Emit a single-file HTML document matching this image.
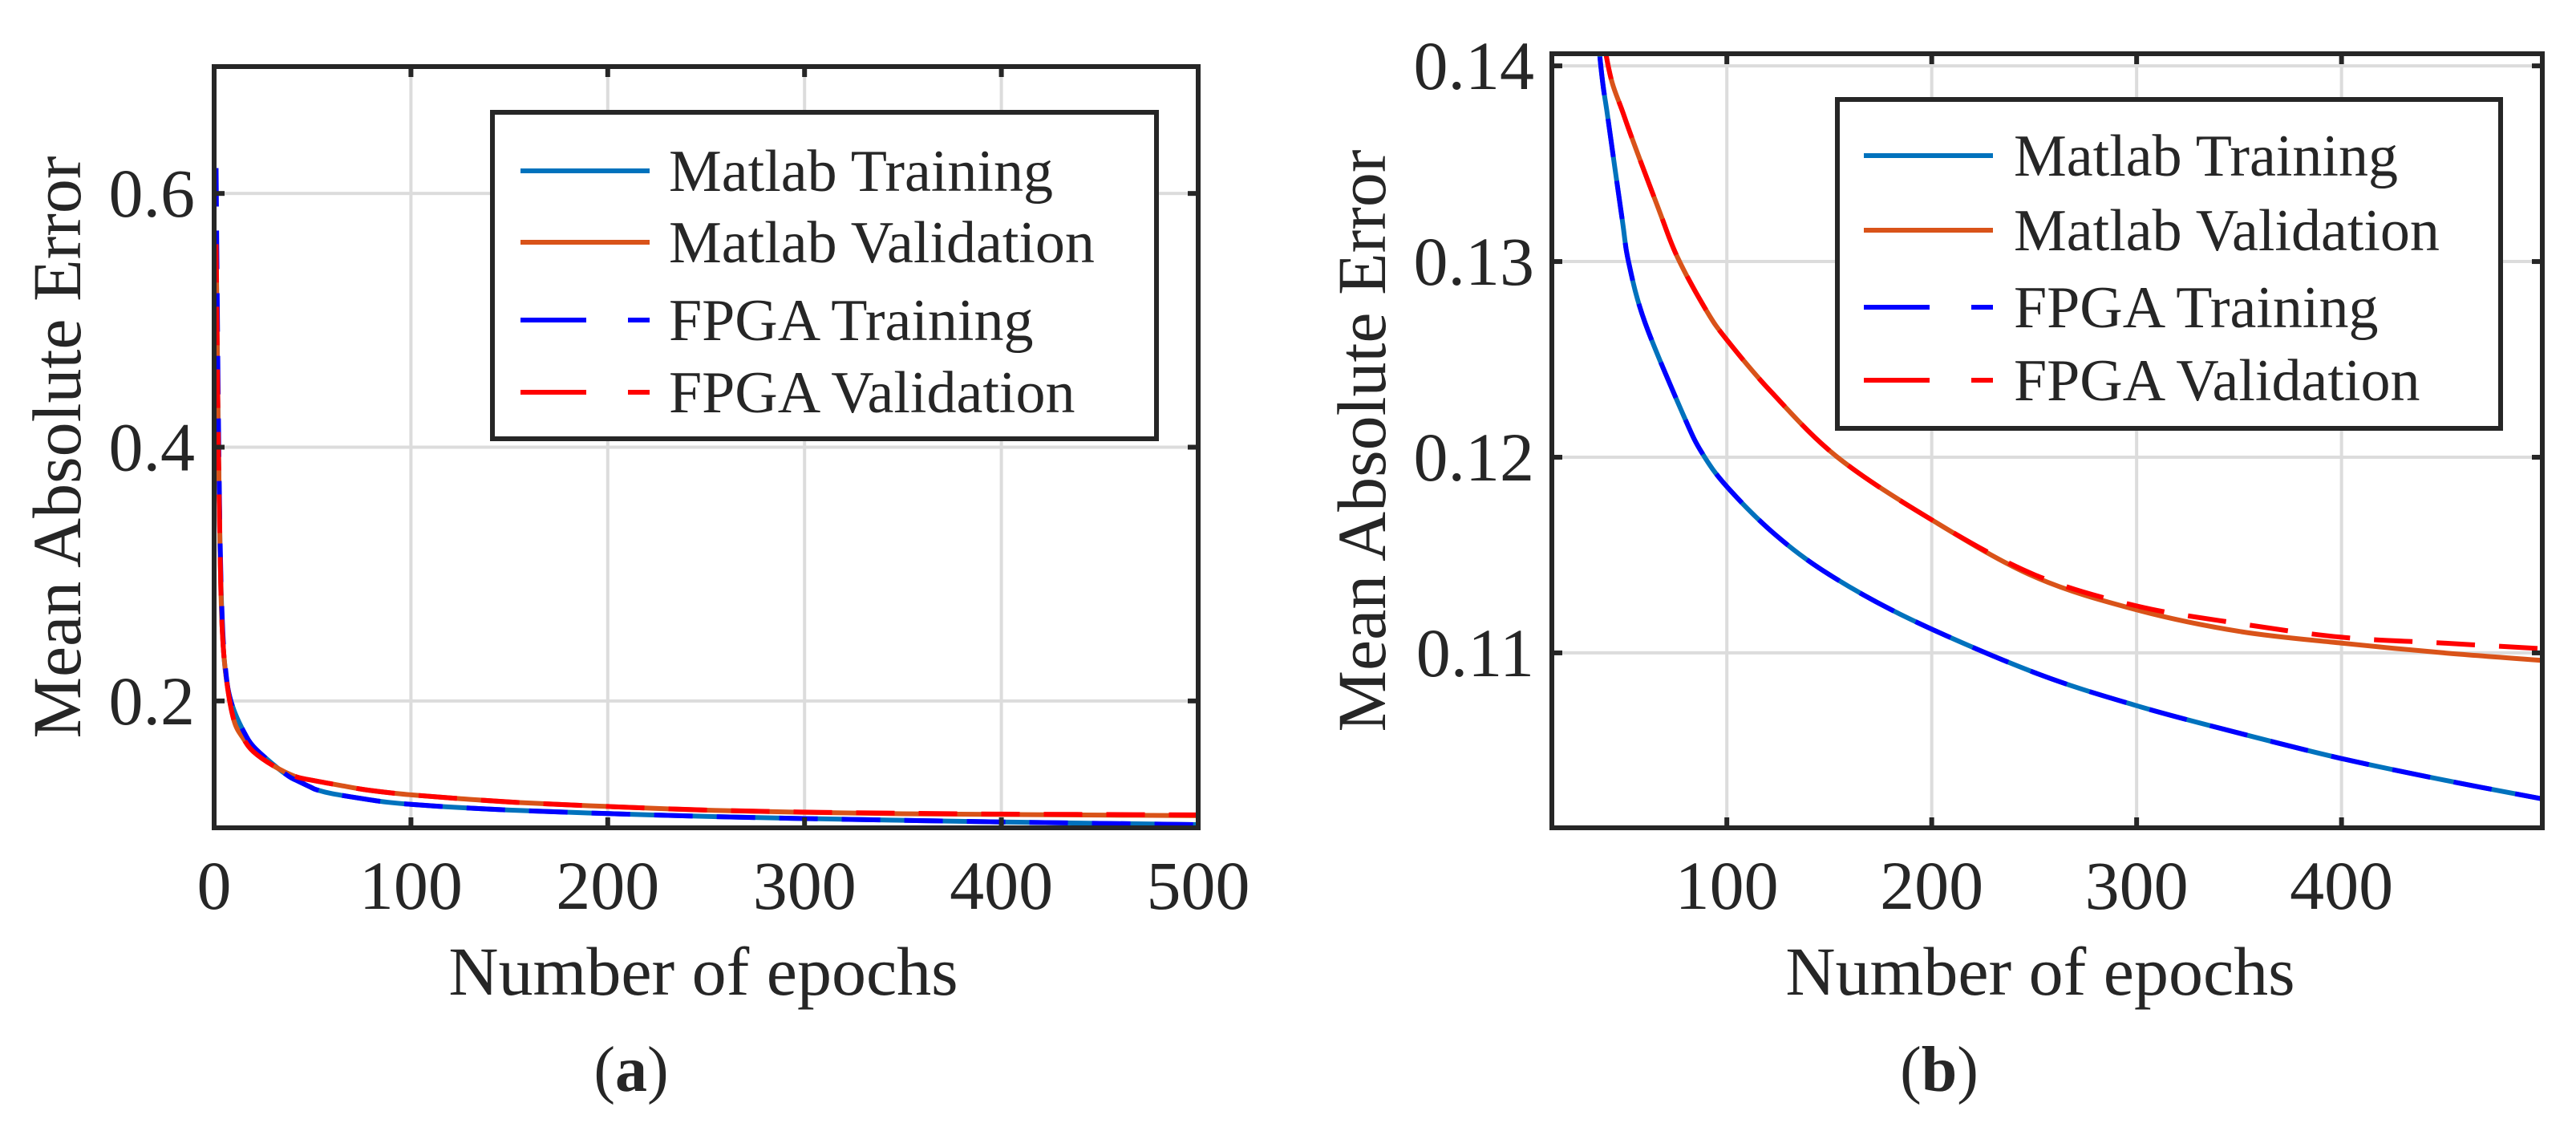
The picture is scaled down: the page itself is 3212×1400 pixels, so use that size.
<!DOCTYPE html>
<html><head><meta charset="utf-8">
<style>
html,body{margin:0;padding:0;background:#fff;}
svg{display:block;}
text{font-family:"Liberation Serif","Times New Roman",serif;fill:#262626;}
</style></head>
<body>
<svg id="fig" width="3212" height="1400" viewBox="0 0 3212 1400" xmlns="http://www.w3.org/2000/svg"></svg>
<script>
// ---- data ----
const mtEpochs = [1,2,3,4,5,7,10,15,20,30,38,42,49,52,60,79,88,100,123,150,190,250,300,350,400,450,500];
const mtValues = [0.57,0.42,0.32,0.265,0.235,0.21,0.193,0.176,0.164,0.150,0.1405,0.1373,0.1321,0.1300,0.1269,0.1221,0.1202,0.1185,0.1161,0.1140,0.1117,0.1090,0.1073,0.1059,0.1046,0.1035,0.1025];
const ftEpochs = mtEpochs;
const ftValues = [0.62,0.45,0.33,0.27,0.24,0.21,0.193,0.176,0.164,0.150,0.1405,0.1373,0.1321,0.1300,0.1269,0.1221,0.1202,0.1185,0.1161,0.1140,0.1117,0.1090,0.1073,0.1059,0.1046,0.1035,0.1025];
const mvEpochs = [1,2,3,4,6,10,15,20,30,41,50,67,76,90,100,122,154,200,250,300,350,400,450,500];
const mvValues = [0.56,0.42,0.32,0.26,0.22,0.185,0.170,0.160,0.149,0.1406,0.1374,0.1326,0.1302,0.1275,0.1260,0.1233,0.1200,0.1168,0.1139,0.1122,0.1111,0.1105,0.1100,0.1096];
const fvEpochs = mvEpochs;
const fvValues = [0.56,0.42,0.32,0.26,0.22,0.185,0.170,0.160,0.149,0.1406,0.1374,0.1326,0.1302,0.1275,0.1260,0.1233,0.1200,0.1168,0.1140,0.1124,0.1115,0.1108,0.1105,0.1102];
const xTicksA = [0,100,200,300,400,500];
const yTicksA = [0.2,0.4,0.6];
const yTickLabelsA = ["0.2","0.4","0.6"];
const xTicksB = [100,200,300,400];
const yTicksB = [0.11,0.12,0.13,0.14];
const yTickLabelsB = ["0.11","0.12","0.13","0.14"];
const legendLabels = ["Matlab Training","Matlab Validation","FPGA Training","FPGA Validation"];

const NS="http://www.w3.org/2000/svg";
const svg=document.getElementById('fig');
function mk(tag,attrs,parent){const e=document.createElementNS(NS,tag);for(const k in attrs)e.setAttribute(k,attrs[k]);(parent||svg).appendChild(e);return e;}
function pathFrom(pts){
  let d="M"+pts[0][0]+","+pts[0][1];
  for(let i=0;i<pts.length-1;i++){
    const p0=pts[Math.max(0,i-1)],p1=pts[i],p2=pts[i+1],p3=pts[Math.min(pts.length-1,i+2)];
    const c1=[p1[0]+(p2[0]-p0[0])/6,p1[1]+(p2[1]-p0[1])/6];
    const c2=[p2[0]-(p3[0]-p1[0])/6,p2[1]-(p3[1]-p1[1])/6];
    d+=" C"+c1[0].toFixed(2)+","+c1[1].toFixed(2)+" "+c2[0].toFixed(2)+","+c2[1].toFixed(2)+" "+p2[0].toFixed(2)+","+p2[1].toFixed(2);
  }
  return d;
}
const defs=mk('defs',{});

function panel(cfg){
  const g=mk('g',{});
  
  
  const sx=v=>cfg.x0+(v-cfg.xmin)/(cfg.xmax-cfg.xmin)*(cfg.x1-cfg.x0);
  const sy=v=>cfg.y1-(v-cfg.ymin)/(cfg.ymax-cfg.ymin)*(cfg.y1-cfg.y0);
  cfg.xt.forEach(t=>{const l=mk('line',{x1:sx(t),x2:sx(t),y1:cfg.y0,y2:cfg.y1,stroke:'#dcdcdc','stroke-width':4},g);
    });
  cfg.yt.forEach(t=>{const l=mk('line',{x1:cfg.x0,x2:cfg.x1,y1:sy(t),y2:sy(t),stroke:'#dcdcdc','stroke-width':4},g);
    });
  const cp=mk('clipPath',{id:cfg.name+'-clip'},defs);
  mk('rect',{x:cfg.x0,y:cfg.y0,width:cfg.x1-cfg.x0,height:cfg.y1-cfg.y0},cp);
  const series=[
    {e:mtEpochs,v:mtValues,c:'#0072BD',dash:null,n:'matlab-training-line'},
    {e:mvEpochs,v:mvValues,c:'#D95319',dash:null,n:'matlab-validation-line'},
    {e:ftEpochs,v:ftValues,c:'#0000FF',dash:'48 30',n:'fpga-training-line'},
    {e:fvEpochs,v:fvValues,c:'#FF0000',dash:'48 30',n:'fpga-validation-line'}
  ];
  const lg=mk('g',{'clip-path':'url(#'+cfg.name+'-clip)'},g);
  series.forEach(s=>{
    const pts=s.e.map((ep,i)=>[sx(ep),sy(s.v[i])]);
    const p=mk('path',{d:pathFrom(pts),fill:'none',stroke:s.c,'stroke-width':cfg.lw,'stroke-linejoin':'round'},lg);
    if(s.dash)p.setAttribute('stroke-dasharray',s.dash);
    
    
  });
  const box=mk('rect',{x:cfg.x0,y:cfg.y0,width:cfg.x1-cfg.x0,height:cfg.y1-cfg.y0,fill:'none',stroke:'#262626','stroke-width':6},g);
  
  cfg.xt.forEach(t=>{
    mk('line',{x1:sx(t),x2:sx(t),y1:cfg.y1,y2:cfg.y1-13,stroke:'#262626','stroke-width':6},g);
    mk('line',{x1:sx(t),x2:sx(t),y1:cfg.y0,y2:cfg.y0+13,stroke:'#262626','stroke-width':6},g);
    const tx=mk('text',{x:sx(t),y:cfg.y1+101,'font-size':86,'text-anchor':'middle'},g);
    tx.textContent=String(t);
    
  });
  cfg.yt.forEach((t,i)=>{
    mk('line',{x1:cfg.x0,x2:cfg.x0+13,y1:sy(t),y2:sy(t),stroke:'#262626','stroke-width':6},g);
    mk('line',{x1:cfg.x1,x2:cfg.x1-13,y1:sy(t),y2:sy(t),stroke:'#262626','stroke-width':6},g);
    const tx=mk('text',{x:cfg.ylx,y:sy(t)+29,'font-size':86,'text-anchor':'end'},g);
    tx.textContent=cfg.ytl[i];
    
  });
  const xl=mk('text',{x:cfg.xlx,y:1240,'font-size':86,'text-anchor':'middle'},g);
  xl.textContent='Number of epochs';
  
  const yl=mk('text',{x:0,y:0,'font-size':86,'text-anchor':'middle',transform:'translate('+cfg.ylabx+','+((cfg.y0+cfg.y1)/2)+') rotate(-90)'},g);
  yl.textContent='Mean Absolute Error';
  
  const cap=mk('text',{x:cfg.capx,y:1360,'font-size':80,'text-anchor':'middle'},g);
  
  cap.innerHTML='('+'<tspan font-weight="bold">'+cfg.cap+'</tspan>)';
  const L=cfg.leg;
  const lgg=mk('g',{},g);
  
  mk('rect',{x:L.x,y:L.y,width:L.w,height:L.h,fill:'#fff',stroke:'#262626','stroke-width':6},lgg);
  const cols=['#0072BD','#D95319','#0000FF','#FF0000'];
  L.rows.forEach((ry,i)=>{
    const eg=mk('g',{},lgg);
    
    const ln=mk('line',{x1:L.lx0,x2:L.lx1,y1:ry,y2:ry,stroke:cols[i],'stroke-width':cfg.lw},eg);
    if(i>=2)ln.setAttribute('stroke-dasharray','82 52');
    const tx=mk('text',{x:L.tx,y:ry+25,'font-size':74},eg);
    tx.textContent=legendLabels[i];
  });
}

panel({name:'panel-a',x0:267,x1:1494,y0:83,y1:1032,xmin:0,xmax:500,ymin:0.1,ymax:0.7,
  xt:xTicksA,yt:yTicksA,ytl:yTickLabelsA,lw:6,ylx:243,xlx:877,ylabx:100,capx:787,cap:'a',
  leg:{x:614,y:140,w:828,h:407,lx0:649,lx1:810,tx:834,rows:[213,302,399,489]}});
panel({name:'panel-b',x0:1935,x1:3170,y0:67,y1:1032,xmin:14.6,xmax:498,ymin:0.10106,ymax:0.14062,
  xt:xTicksB,yt:yTicksB,ytl:yTickLabelsB,lw:6,ylx:1913,xlx:2544,ylabx:1727,capx:2418,cap:'b',
  leg:{x:2291,y:124,w:827,h:410,lx0:2324,lx1:2485,tx:2511,rows:[194,287,383,474]}});
</script>
</body></html>
